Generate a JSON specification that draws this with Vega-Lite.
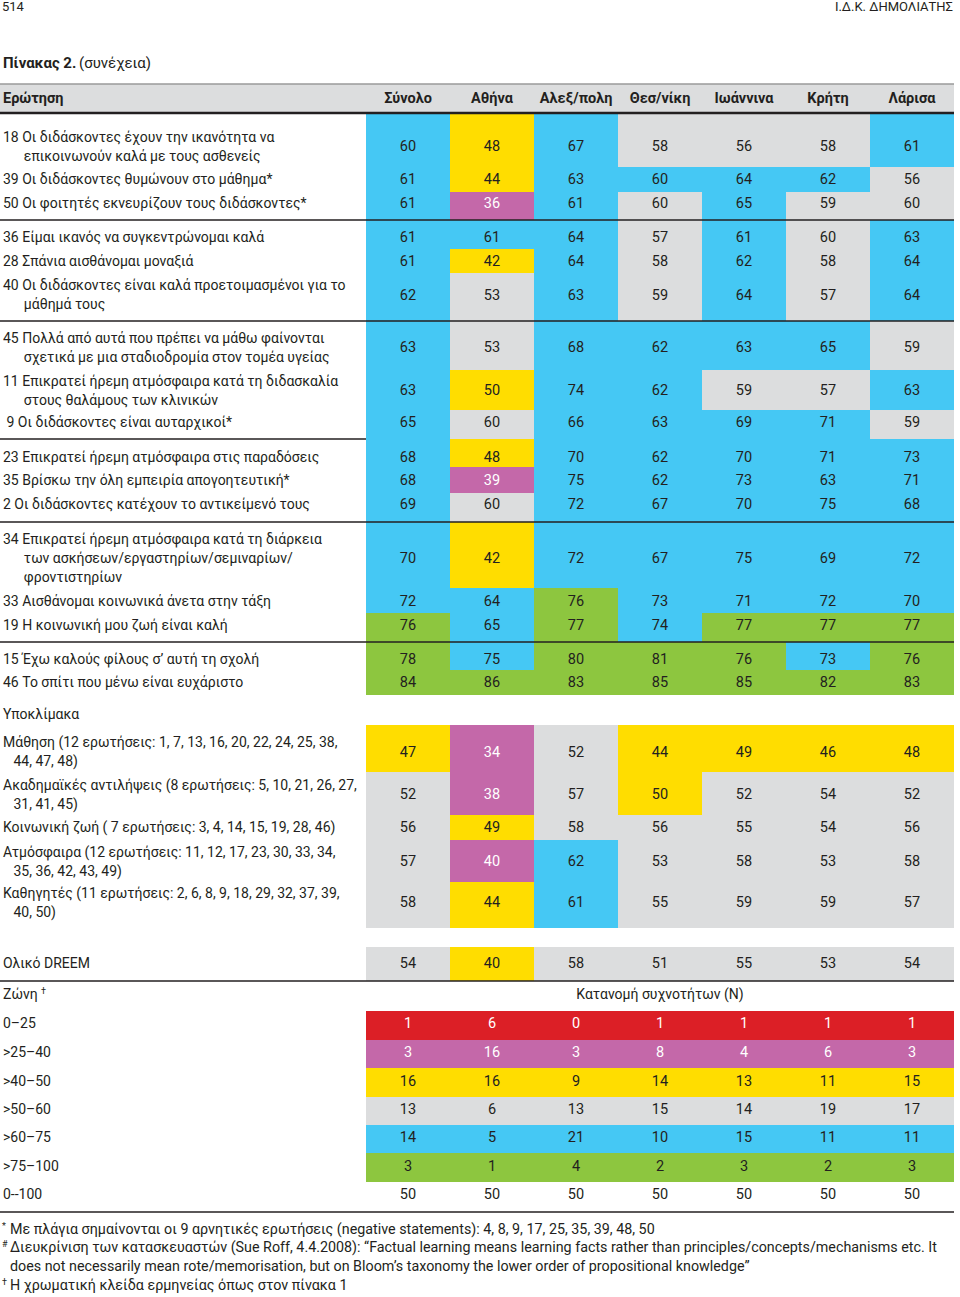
{
  "$schema": "https://vega.github.io/schema/vega-lite/v6.json",
  "width": 960,
  "height": 1297,
  "autosize": {"type": "none"},
  "padding": 0,
  "background": "white",
  "config": {"view": {"stroke": null}, "text": {"font": "Roboto", "fontSize": 14, "color": "#231f20", "baseline": "middle"}},
  "datasets": {
    "rows": [
      {"k": 3, "lab": "18 Οι διδάσκοντες έχουν την ικανότητα να\n\u200b\u00a0\u00a0\u00a0\u00a0\u00a0\u00a0επικοινωνούν καλά με τους ασθενείς", "neg": false, "v": [60,48,67,58,56,58,61], "z": ["b","y","b","g","g","g","b"]},
      {"k": 4, "lab": "39 Οι διδάσκοντες θυμώνουν στο μάθημα*", "neg": true, "v": [61,44,63,60,64,62,56], "z": ["b","y","b","b","b","b","g"]},
      {"k": 5, "lab": "50 Οι φοιτητές εκνευρίζουν τους διδάσκοντες*", "neg": true, "v": [61,36,61,60,65,59,60], "z": ["b","p","b","g","b","g","g"]},
      {"k": 6, "lab": "36 Είμαι ικανός να συγκεντρώνομαι καλά", "neg": false, "v": [61,61,64,57,61,60,63], "z": ["b","b","b","g","b","g","b"]},
      {"k": 7, "lab": "28 Σπάνια αισθάνομαι μοναξιά", "neg": false, "v": [61,42,64,58,62,58,64], "z": ["b","y","b","g","b","g","b"]},
      {"k": 8, "lab": "40 Οι διδάσκοντες είναι καλά προετοιμασμένοι για το\n\u200b\u00a0\u00a0\u00a0\u00a0\u00a0\u00a0μάθημά τους", "neg": false, "v": [62,53,63,59,64,57,64], "z": ["b","g","b","g","b","g","b"]},
      {"k": 9, "lab": "45 Πολλά από αυτά που πρέπει να μάθω φαίνονται\n\u200b\u00a0\u00a0\u00a0\u00a0\u00a0\u00a0σχετικά με μια σταδιοδρομία στον τομέα υγείας", "neg": false, "v": [63,53,68,62,63,65,59], "z": ["b","g","b","b","b","b","g"]},
      {"k": 10, "lab": "11 Επικρατεί ήρεμη ατμόσφαιρα κατά τη διδασκαλία\n\u200b\u00a0\u00a0\u00a0\u00a0\u00a0\u00a0στους θαλάμους των κλινικών", "neg": false, "v": [63,50,74,62,59,57,63], "z": ["b","y","b","b","g","g","b"]},
      {"k": 11, "lab": "\u200b\u00a09 Οι διδάσκοντες είναι αυταρχικοί*", "neg": true, "v": [65,60,66,63,69,71,59], "z": ["b","g","b","b","b","b","g"]},
      {"k": 12, "lab": "23 Επικρατεί ήρεμη ατμόσφαιρα στις παραδόσεις", "neg": false, "v": [68,48,70,62,70,71,73], "z": ["b","y","b","b","b","b","b"]},
      {"k": 13, "lab": "35 Βρίσκω την όλη εμπειρία απογοητευτική*", "neg": true, "v": [68,39,75,62,73,63,71], "z": ["b","p","b","b","b","b","b"]},
      {"k": 14, "lab": "2 Οι διδάσκοντες κατέχουν το αντικείμενό τους", "neg": false, "v": [69,60,72,67,70,75,68], "z": ["b","g","b","b","b","b","b"]},
      {"k": 15, "lab": "34 Επικρατεί ήρεμη ατμόσφαιρα κατά τη διάρκεια\n\u200b\u00a0\u00a0\u00a0\u00a0\u00a0\u00a0των ασκήσεων/εργαστηρίων/σεμιναρίων/\n\u200b\u00a0\u00a0\u00a0\u00a0\u00a0\u00a0φροντιστηρίων", "neg": false, "v": [70,42,72,67,75,69,72], "z": ["b","y","b","b","b","b","b"]},
      {"k": 16, "lab": "33 Αισθάνομαι κοινωνικά άνετα στην τάξη", "neg": false, "v": [72,64,76,73,71,72,70], "z": ["b","b","n","b","b","b","b"]},
      {"k": 17, "lab": "19 Η κοινωνική μου ζωή είναι καλή", "neg": false, "v": [76,65,77,74,77,77,77], "z": ["n","b","n","b","n","n","n"]},
      {"k": 18, "lab": "15 Έχω καλούς φίλους σ’ αυτή τη σχολή", "neg": false, "v": [78,75,80,81,76,73,76], "z": ["n","b","n","n","n","b","n"]},
      {"k": 19, "lab": "46 Το σπίτι που μένω είναι ευχάριστο", "neg": false, "v": [84,86,83,85,85,82,83], "z": ["n","n","n","n","n","n","n"]},
      {"k": 21, "lab": "Μάθηση (12 ερωτήσεις: 1, 7, 13, 16, 20, 22, 24, 25, 38,\n\u200b\u00a0\u00a0\u00a044, 47, 48)", "neg": false, "v": [47,34,52,44,49,46,48], "z": ["y","p","g","y","y","y","y"]},
      {"k": 22, "lab": "Ακαδημαϊκές αντιλήψεις (8 ερωτήσεις: 5, 10, 21, 26, 27,\n\u200b\u00a0\u00a0\u00a031, 41, 45)", "neg": false, "v": [52,38,57,50,52,54,52], "z": ["g","p","g","y","g","g","g"]},
      {"k": 23, "lab": "Κοινωνική ζωή ( 7 ερωτήσεις: 3, 4, 14, 15, 19, 28, 46)", "neg": false, "v": [56,49,58,56,55,54,56], "z": ["g","y","g","g","g","g","g"]},
      {"k": 24, "lab": "Ατμόσφαιρα (12 ερωτήσεις: 11, 12, 17, 23, 30, 33, 34,\n\u200b\u00a0\u00a0\u00a035, 36, 42, 43, 49)", "neg": false, "v": [57,40,62,53,58,53,58], "z": ["g","p","b","g","g","g","g"]},
      {"k": 25, "lab": "Καθηγητές (11 ερωτήσεις: 2, 6, 8, 9, 18, 29, 32, 37, 39,\n\u200b\u00a0\u00a0\u00a040, 50)", "neg": false, "v": [58,44,61,55,59,59,57], "z": ["g","y","b","g","g","g","g"]},
      {"k": 27, "lab": "Ολικό DREEM", "neg": false, "v": [54,40,58,51,55,53,54], "z": ["g","y","g","g","g","g","g"]},
      {"k": 29, "lab": "0–25", "neg": false, "v": [1,6,0,1,1,1,1], "z": ["r","r","r","r","r","r","r"]},
      {"k": 30, "lab": ">25–40", "neg": false, "v": [3,16,3,8,4,6,3], "z": ["p","p","p","p","p","p","p"]},
      {"k": 31, "lab": ">40–50", "neg": false, "v": [16,16,9,14,13,11,15], "z": ["y","y","y","y","y","y","y"]},
      {"k": 32, "lab": ">50–60", "neg": false, "v": [13,6,13,15,14,19,17], "z": ["g","g","g","g","g","g","g"]},
      {"k": 33, "lab": ">60–75", "neg": false, "v": [14,5,21,10,15,11,11], "z": ["b","b","b","b","b","b","b"]},
      {"k": 34, "lab": ">75–100", "neg": false, "v": [3,1,4,2,3,2,3], "z": ["n","n","n","n","n","n","n"]},
      {"k": 35, "lab": "0--100", "neg": false, "v": [50,50,50,50,50,50,50], "z": ["w","w","w","w","w","w","w"]}
    ]
  },
  "layer": [
    {
      "data": {"values": [{}]},
      "mark": {"type": "rect", "color": "#dcddde"},
      "encoding": {
        "x": {"datum": 0, "type": "quantitative", "axis": null, "scale": {"type": "linear", "domain": [0,1,2,3,4,5,6,7,8], "range": [0,366,450,534,618,702,786,870,954], "zero": false, "nice": false}},
        "x2": {"datum": 8},
        "y": {"datum": 1.5, "type": "quantitative", "axis": null, "scale": {"type": "linear", "zero": false, "nice": false, "domain": [-0.5,0,0.5,1,1.5,2,2.5,3,3.5,4,4.5,5,5.5,6,6.5,7,7.5,8,8.5,9,9.5,10,10.5,11,11.5,12,12.5,13,13.5,14,14.5,15,15.5,16,16.5,17,17.5,18,18.5,19,19.5,20,20.5,21,21.5,22,22.5,23,23.5,24,24.5,25,25.5,26,26.5,27,27.5,28,28.5,29,29.5,30,30.5,31,31.5,32,32.5,33,33.5,34,34.5,35,35.5,36,36.5,37,37.5,38,38.5,39,39.5], "range": [0,7,30,63,84,99,113,147,167,180,192,204,220,238,249,262,273,295.5,321,348,370,391,410,423,439,458,467,481,493,505,522,559,588,602,613,626,642,660,670,683,695,715,725,752.5,772,795,815,828,840,862,882,903,928,937,947,964,981,995,1011,1024,1040,1053,1068,1082,1097,1110,1125,1138,1153,1167,1182,1195,1212,1230,1240,1248,1257,1267,1277,1286,1297]}},
        "y2": {"datum": 2.5}
      }
    },
    {
      "data": {"values": [{"b": 11.5}]},
      "mark": {"type": "rule", "color": "#231f20", "strokeWidth": 1.3},
      "encoding": {
        "x": {"datum": 0, "type": "quantitative", "axis": null},
        "x2": {"datum": 8},
        "y": {"field": "b", "type": "quantitative", "axis": null}
      }
    },
    {
      "data": {"name": "rows"},
      "transform": [
        {"flatten": ["v", "z"], "as": ["val", "zone"]},
        {"window": [{"op": "row_number", "as": "col"}], "groupby": ["k"]},
        {"calculate": "datum.col + 1", "as": "col2"},
        {"calculate": "datum.col + 0.5", "as": "colm"},
        {"calculate": "datum.k - 0.5", "as": "k0"},
        {"calculate": "datum.k + 0.5", "as": "k1"}
      ],
      "layer": [
        {
          "mark": {"type": "rect"},
          "encoding": {
            "x": {"field": "col", "type": "quantitative", "axis": null},
            "x2": {"field": "col2"},
            "y": {"field": "k0", "type": "quantitative", "axis": null},
            "y2": {"field": "k1"},
            "fill": {"field": "zone", "type": "nominal", "legend": null, "scale": {"domain": ["r","p","y","g","b","n","w"], "range": ["#dc1f26","#c468a9","#ffdd00","#dcddde","#45c8f4","#8dc63f","#ffffff"]}}
          }
        },
        {
          "mark": {"type": "text", "align": "center", "fontSize": 14.5},
          "encoding": {
            "x": {"field": "colm", "type": "quantitative", "axis": null},
            "y": {"field": "k", "type": "quantitative", "axis": null},
            "text": {"field": "val", "type": "quantitative"},
            "color": {"condition": {"test": "datum.zone === 'r' || datum.zone === 'p'", "value": "#ffffff"}, "value": "#231f20"}
          }
        }
      ]
    },
    {
      "data": {"name": "rows"},
      "transform": [{"calculate": "length(split(datum.lab, '\\n'))", "as": "n"}],
      "layer": [
        {
          "transform": [{"filter": "datum.n === 1"}],
          "mark": {"type": "text", "align": "left", "dx": 3, "lineBreak": "\n", "lineHeight": 19},
          "encoding": {
            "x": {"datum": 0, "type": "quantitative", "axis": null},
            "y": {"field": "k", "type": "quantitative", "axis": null},
            "text": {"field": "lab"},
            "fontStyle": {"condition": {"test": "datum.neg", "value": "italic"}, "value": "normal"}
          }
        },
        {
          "transform": [{"filter": "datum.n === 2"}],
          "mark": {"type": "text", "align": "left", "dx": 3, "dy": -9.5, "lineBreak": "\n", "lineHeight": 19},
          "encoding": {
            "x": {"datum": 0, "type": "quantitative", "axis": null},
            "y": {"field": "k", "type": "quantitative", "axis": null},
            "text": {"field": "lab"},
            "fontStyle": {"condition": {"test": "datum.neg", "value": "italic"}, "value": "normal"}
          }
        },
        {
          "transform": [{"filter": "datum.n === 3"}],
          "mark": {"type": "text", "align": "left", "dx": 3, "dy": -19, "lineBreak": "\n", "lineHeight": 19},
          "encoding": {
            "x": {"datum": 0, "type": "quantitative", "axis": null},
            "y": {"field": "k", "type": "quantitative", "axis": null},
            "text": {"field": "lab"},
            "fontStyle": {"condition": {"test": "datum.neg", "value": "italic"}, "value": "normal"}
          }
        }
      ]
    },
    {
      "data": {"values": [{"t": "Σύνολο", "col": 1}, {"t": "Αθήνα", "col": 2}, {"t": "Αλεξ/πολη", "col": 3}, {"t": "Θεσ/νίκη", "col": 4}, {"t": "Ιωάννινα", "col": 5}, {"t": "Κρήτη", "col": 6}, {"t": "Λάρισα", "col": 7}]},
      "transform": [{"calculate": "datum.col + 0.5", "as": "colm"}],
      "mark": {"type": "text", "align": "center", "fontWeight": "bold", "fontSize": 14.5},
      "encoding": {
        "x": {"field": "colm", "type": "quantitative", "axis": null},
        "y": {"datum": 2, "type": "quantitative", "axis": null},
        "text": {"field": "t"}
      }
    },
    {
      "data": {"values": [{"t": "Ερώτηση"}]},
      "mark": {"type": "text", "align": "left", "dx": 3, "fontWeight": "bold", "fontSize": 14.5},
      "encoding": {
        "x": {"datum": 0, "type": "quantitative", "axis": null},
        "y": {"datum": 2, "type": "quantitative", "axis": null},
        "text": {"field": "t"}
      }
    },
    {
      "data": {"values": [{}]},
      "mark": {"type": "rule", "color": "#9a9a9a", "strokeWidth": 1.5},
      "encoding": {
        "x": {"datum": 0, "type": "quantitative", "axis": null},
        "x2": {"datum": 8},
        "y": {"datum": 1.5, "type": "quantitative", "axis": null}
      }
    },
    {
      "data": {"values": [{}]},
      "mark": {"type": "rule", "color": "#231f20", "strokeWidth": 2.5},
      "encoding": {
        "x": {"datum": 0, "type": "quantitative", "axis": null},
        "x2": {"datum": 8},
        "y": {"datum": 2.5, "type": "quantitative", "axis": null}
      }
    },
    {
      "data": {"values": [{"b": 5.5}, {"b": 8.5}, {"b": 14.5}, {"b": 17.5}, {"b": 27.5}, {"b": 35.5}]},
      "mark": {"type": "rule", "color": "#231f20", "strokeWidth": 1.3},
      "encoding": {
        "x": {"datum": 0, "type": "quantitative", "axis": null},
        "x2": {"datum": 8},
        "y": {"field": "b", "type": "quantitative", "axis": null}
      }
    },
    {
      "data": {"values": [{"t": "Υποκλίμακα", "k": 20}, {"t": "Ζώνη", "k": 28}]},
      "mark": {"type": "text", "align": "left", "dx": 3},
      "encoding": {
        "x": {"datum": 0, "type": "quantitative", "axis": null},
        "y": {"field": "k", "type": "quantitative", "axis": null},
        "text": {"field": "t"}
      }
    },
    {
      "data": {"values": [{"t": "†", "k": 28}]},
      "mark": {"type": "text", "align": "left", "dx": 41, "dy": -4, "fontSize": 9},
      "encoding": {
        "x": {"datum": 0, "type": "quantitative", "axis": null},
        "y": {"field": "k", "type": "quantitative", "axis": null},
        "text": {"field": "t"}
      }
    },
    {
      "data": {"values": [{"t": "514", "k": 0}]},
      "mark": {"type": "text", "align": "left", "dx": 2, "fontSize": 13},
      "encoding": {
        "x": {"datum": 0, "type": "quantitative", "axis": null},
        "y": {"field": "k", "type": "quantitative", "axis": null},
        "text": {"field": "t"}
      }
    },
    {
      "data": {"values": [{"t": "Κατανομή συχνοτήτων (N)", "k": 28}]},
      "mark": {"type": "text", "align": "center"},
      "encoding": {
        "x": {"datum": 4.5, "type": "quantitative", "axis": null},
        "y": {"field": "k", "type": "quantitative", "axis": null},
        "text": {"field": "t"}
      }
    },
    {
      "data": {"values": [{"t": "Ι.Δ.Κ. ΔΗΜΟΛΙΑΤΗΣ", "k": 0}]},
      "mark": {"type": "text", "align": "right", "dx": -1, "fontSize": 13},
      "encoding": {
        "x": {"datum": 8, "type": "quantitative", "axis": null},
        "y": {"field": "k", "type": "quantitative", "axis": null},
        "text": {"field": "t"}
      }
    },
    {
      "data": {"values": [{"t": "Πίνακας 2.", "k": 1}]},
      "mark": {"type": "text", "align": "left", "dx": 3, "fontWeight": "bold", "fontSize": 15},
      "encoding": {
        "x": {"datum": 0, "type": "quantitative", "axis": null},
        "y": {"field": "k", "type": "quantitative", "axis": null},
        "text": {"field": "t"}
      }
    },
    {
      "data": {"values": [{"t": "(συνέχεια)", "k": 1}]},
      "mark": {"type": "text", "align": "left", "dx": 79, "fontSize": 15},
      "encoding": {
        "x": {"datum": 0, "type": "quantitative", "axis": null},
        "y": {"field": "k", "type": "quantitative", "axis": null},
        "text": {"field": "t"}
      }
    },
    {
      "data": {"values": [{"m": "*", "k": 36}, {"m": "#", "k": 37}, {"m": "†", "k": 39}]},
      "mark": {"type": "text", "align": "left", "dx": 2, "dy": -4, "fontSize": 9, "font": "Liberation Sans Narrow, Roboto"},
      "encoding": {
        "x": {"datum": 0, "type": "quantitative", "axis": null},
        "y": {"field": "k", "type": "quantitative", "axis": null},
        "text": {"field": "m"}
      }
    },
    {
      "data": {"values": [
        {"t": "Με πλάγια σημαίνονται οι 9 αρνητικές ερωτήσεις (negative statements): 4, 8, 9, 17, 25, 35, 39, 48, 50", "k": 36},
        {"t": "Διευκρίνιση των κατασκευαστών (Sue Roff, 4.4.2008): “Factual learning means learning facts rather than principles/concepts/mechanisms etc. It", "k": 37},
        {"t": "does not necessarily mean rote/memorisation, but on Bloom’s taxonomy the lower order of propositional knowledge”", "k": 38},
        {"t": "Η χρωματική κλείδα ερμηνείας όπως στον πίνακα 1", "k": 39}
      ]},
      "mark": {"type": "text", "align": "left", "dx": 10, "fontSize": 14.3, "font": "Liberation Sans Narrow, Roboto"},
      "encoding": {
        "x": {"datum": 0, "type": "quantitative", "axis": null},
        "y": {"field": "k", "type": "quantitative", "axis": null},
        "text": {"field": "t"}
      }
    }
  ]
}
